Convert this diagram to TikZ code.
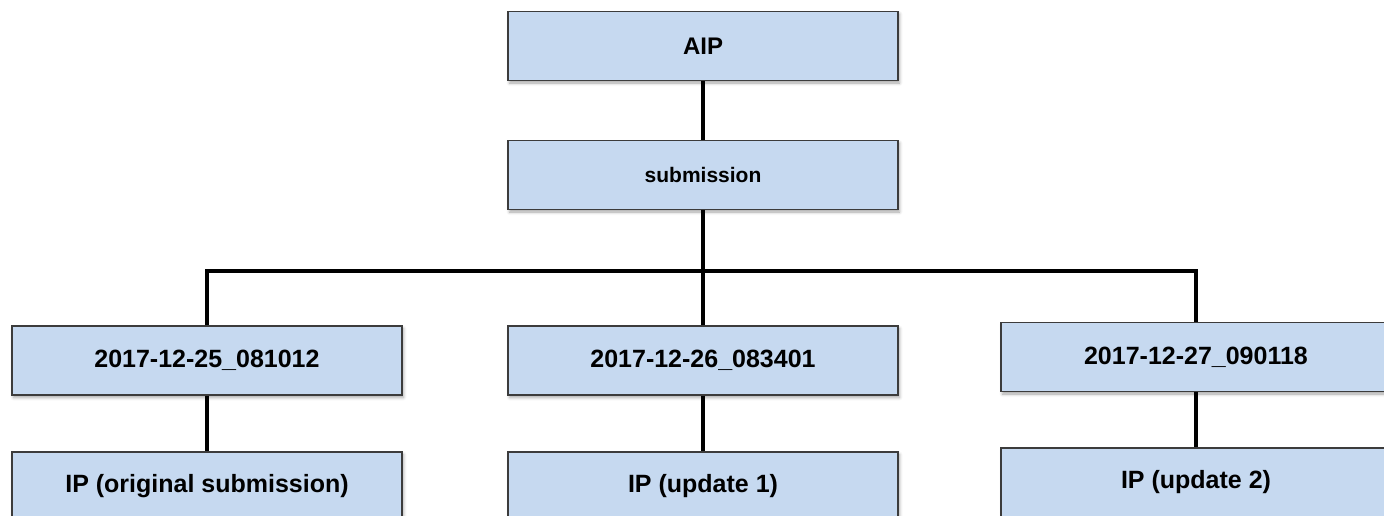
\documentclass[tikz,border=0pt]{standalone}
\usepackage{fontspec}
\setmainfont{Liberation Sans}
\usepackage{xcolor}
\usetikzlibrary{shadows.blur}

\definecolor{boxblue}{HTML}{C6D9F0}
\definecolor{boxline}{HTML}{3C3C3C}

\tikzset{
	box/.style={draw=boxline, line width=1.1pt, fill=boxblue, rectangle,
		minimum width=390pt, minimum height=69pt, inner sep=0pt,
		font=\bfseries\fontsize{25}{30}\selectfont,
		blur shadow={shadow xshift=1.5pt, shadow yshift=-2.5pt, shadow blur radius=3pt, shadow opacity=35}},
	link/.style={line width=4pt, black}
}

\begin{document}
\begin{tikzpicture}[x=1pt,y=-1pt]
				\useasboundingbox (0,0) rectangle (1384,515);
				
				\node[box, font=\bfseries\fontsize{24}{28}\selectfont] (aip) at (703,46) {AIP};
				\node[box, font=\bfseries\fontsize{21}{25}\selectfont] (sub) at (703,175) {submission};
				
				\node[box] (d1) at (207,360.5) {2017-12-25\_081012};
				\node[box] (d2) at (703,360.5) {2017-12-26\_083401};
				\node[box] (d3) at (1196,357) {2017-12-27\_090118};
				
				\node[box] (ip1) at (207,486.5) {IP (original submission)};
				\node[box] (ip2) at (703,486.5) {IP (update 1)};
				\node[box] (ip3) at (1196,482.5) {IP (update 2)};
				
				\coordinate (bus) at (703,271);
				
				\draw[link] (aip.south) -- (sub.north);
				\draw[link] (sub.south) -- (d2.north);
				\draw[link] (d1.north) |- (bus) -| (d3.north);
				
				\draw[link] (d1.south) -- (ip1.north);
				\draw[link] (d2.south) -- (ip2.north);
				\draw[link] (d3.south) -- (ip3.north);
			\end{tikzpicture}
\end{document}
